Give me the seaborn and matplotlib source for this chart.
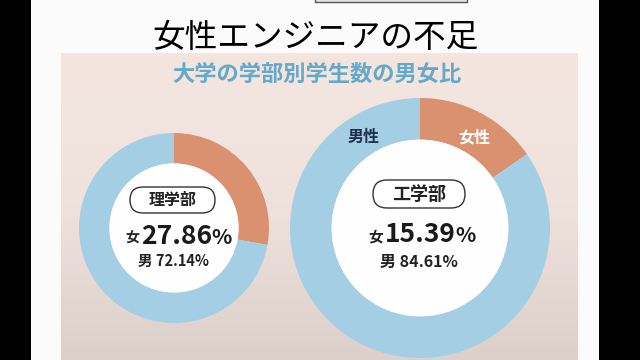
import numpy as np
import seaborn as sns
import matplotlib.pyplot as plt
from matplotlib.patches import Circle, Rectangle, FancyBboxPatch

# data
faculties = ['理学部', '工学部']
female_pct = [27.86, 15.39]
male_pct = [72.14, 84.61]
gender_labels = ['女性', '男性']

sns.set_theme(style='white')
plt.rcParams['font.family'] = ['Noto Sans CJK JP', 'DejaVu Sans']
colors = sns.color_palette(['#d9916f', '#a4cee3'])

fig = plt.figure(figsize=(6.4, 3.6), dpi=100)
fig.patch.set_facecolor('black')
ax = fig.add_axes([0, 0, 1, 1])

# white slide area + pink panel (gradient)
ax.add_patch(Rectangle((31, 0), 568, 360, facecolor='#fbfbfb', edgecolor='none', zorder=0))
ax.add_patch(Rectangle((315, -3), 152, 5, facecolor='#e6e6e6', edgecolor='#555555', lw=1, zorder=1))
grad = np.linspace(0, 1, 100).reshape(-1, 1)
panel_cmap = sns.blend_palette(['#f4e5df', '#efe2dd', '#dcd0cb'], as_cmap=True)
ax.imshow(grad, cmap=panel_cmap, extent=(61, 578, 360, 53), aspect='auto', zorder=1)

# donuts
centers = [(174, 228), (420, 228)]
radii = [95, 130]
ring_frac = 0.32
for i, fac in enumerate(faculties):
    cx, cy = centers[i]
    r = radii[i]
    ax.pie([female_pct[i], male_pct[i]], colors=colors, center=(cx, cy), radius=r,
           startangle=270, counterclock=True,
           wedgeprops=dict(width=r * ring_frac, edgecolor='none', zorder=3))
    ax.add_patch(Circle((cx, cy), r * (1 - ring_frac), facecolor='#fefefe', edgecolor='none', zorder=3))

ax.set_xlim(0, 640)
ax.set_ylim(360, 0)
ax.set_aspect('auto')
ax.axis('off')

fig.canvas.draw()
renderer = fig.canvas.get_renderer()


def put_value(x_num_left, y, sex, value, num_size, small_size):
    # '女' + bold number + '%'
    ax.text(x_num_left - 2, y + 2, sex, ha='right', va='center', fontsize=small_size,
            color='#222222', fontweight='bold', zorder=5)
    t = ax.text(x_num_left, y, value, ha='left', va='center', fontsize=num_size,
                color='#1a1a1a', fontweight='bold', zorder=5)
    bb = t.get_window_extent(renderer).transformed(ax.transData.inverted())
    ax.text(max(bb.x0, bb.x1) - 1, y + 1, '%', ha='left', va='center', fontsize=num_size * 0.8,
            color='#1a1a1a', fontweight='bold', zorder=5)


# left: 理学部
box_l = FancyBboxPatch((130, 187), 85, 26, boxstyle='round,pad=0,rounding_size=13',
                       facecolor='white', edgecolor='#333333', lw=1, zorder=4)
ax.add_patch(box_l)
ax.text(172.5, 200, faculties[0], ha='center', va='center', fontsize=11.5,
        color='#222222', fontweight='bold', zorder=5)
put_value(141, 236, '女', f'{female_pct[0]:.2f}', 19, 10)
ax.text(173, 261, f'男 {male_pct[0]:.2f}%', ha='center', va='center', fontsize=10.5,
        color='#222222', fontweight='bold', zorder=5)

# right: 工学部
box_r = FancyBboxPatch((373, 180), 92, 28, boxstyle='round,pad=0,rounding_size=14',
                       facecolor='white', edgecolor='#333333', lw=1, zorder=4)
ax.add_patch(box_r)
ax.text(419, 194, faculties[1], ha='center', va='center', fontsize=13,
        color='#222222', fontweight='bold', zorder=5)
put_value(385, 234, '女', f'{female_pct[1]:.2f}', 19, 10.5)
ax.text(419, 262, f'男 {male_pct[1]:.2f}%', ha='center', va='center', fontsize=11.5,
        color='#222222', fontweight='bold', zorder=5)

# ring labels on the big donut
ax.text(364, 137, gender_labels[1], ha='center', va='center', fontsize=11.5,
        color='#1f2f4d', fontweight='bold', zorder=5)
ax.text(474, 137, gender_labels[0], ha='center', va='center', fontsize=11.5,
        color='white', fontweight='bold', zorder=5)

# titles
ax.text(315, 38, '女性エンジニアの不足', ha='center', va='center', fontsize=23.5,
        color='black', zorder=5)
ax.text(317, 74, '大学の学部別学生数の男女比', ha='center', va='center', fontsize=16,
        color='#62a9cb', fontweight='bold', zorder=5)

fig.savefig('out.png', dpi=100, facecolor=fig.get_facecolor())
